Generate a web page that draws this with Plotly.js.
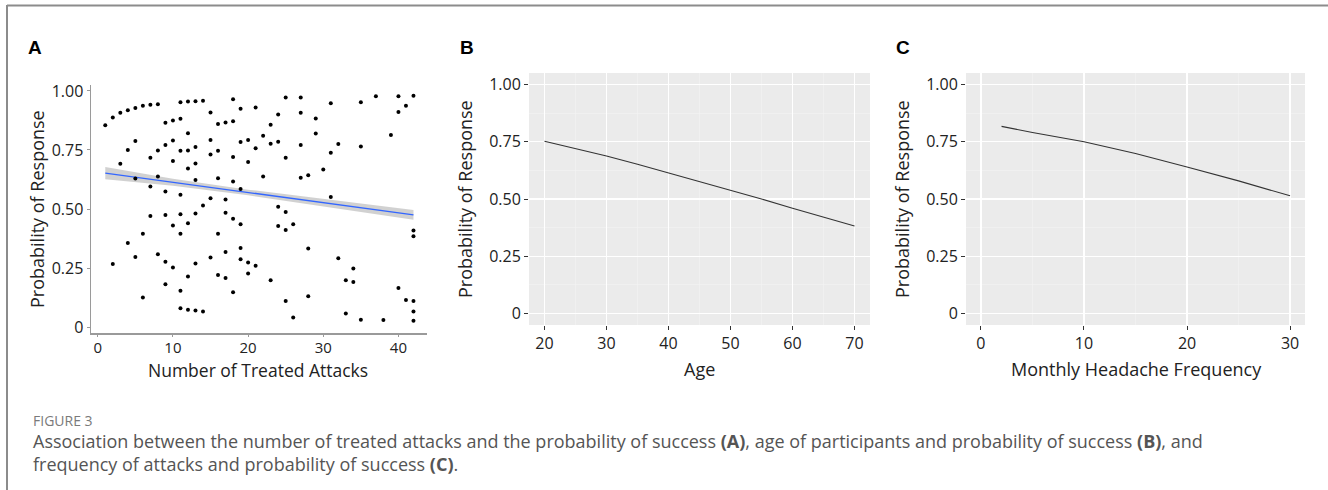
<!DOCTYPE html>
<html><head><meta charset="utf-8">
<script src="https://cdn.plot.ly/plotly-3.0.1.min.js"></script>
<style>html,body{margin:0;padding:0;background:#fff}#chart{width:1328px;height:490px}</style>
</head><body><div id="chart"></div>
<script>
// Panel A: number of treated attacks vs probability of response
const attacksX = [1,2,2,3,3,4,4,4,5,5,5,5,6,6,6,7,7,7,7,8,8,8,8,9,9,9,9,9,9,10,10,10,10,10,
  11,11,11,11,11,11,11,11,12,12,12,12,12,12,12,13,13,13,13,13,13,13,14,14,14,15,15,15,15,15,
  16,16,16,16,16,17,17,17,17,17,18,18,18,18,18,18,19,19,19,19,19,19,20,20,20,20,21,21,21,22,22,
  23,23,23,24,24,24,24,25,25,25,25,25,26,26,27,27,27,27,28,28,28,29,29,30,31,31,31,32,32,33,33,
  34,34,35,35,35,37,38,39,40,40,40,41,41,42,42,42,42,42,42];
const attacksY = [0.855,0.887,0.267,0.907,0.692,0.918,0.75,0.356,0.928,0.788,0.629,0.297,0.937,0.395,0.125,
  0.941,0.717,0.595,0.47,0.944,0.748,0.638,0.308,0.865,0.771,0.574,0.475,0.277,0.181,0.875,0.79,0.703,0.43,0.252,
  0.952,0.882,0.747,0.56,0.478,0.395,0.154,0.08,0.955,0.821,0.748,0.671,0.44,0.214,0.073,
  0.956,0.762,0.693,0.623,0.481,0.269,0.07,0.958,0.515,0.066,0.909,0.792,0.731,0.546,0.295,
  0.86,0.747,0.63,0.395,0.221,0.866,0.54,0.484,0.318,0.208,0.965,0.872,0.72,0.616,0.459,0.148,
  0.924,0.784,0.585,0.435,0.335,0.287,0.792,0.699,0.273,0.227,0.93,0.757,0.26,0.81,0.638,
  0.857,0.776,0.198,0.9,0.785,0.509,0.428,0.972,0.717,0.487,0.411,0.11,0.435,0.041,
  0.972,0.908,0.771,0.632,0.643,0.333,0.131,0.883,0.82,0.667,0.948,0.738,0.551,0.775,0.292,0.198,0.058,
  0.248,0.191,0.952,0.765,0.031,0.977,0.03,0.813,0.977,0.911,0.165,0.937,0.115,0.979,0.409,0.385,0.111,0.066,0.027];
const fitX = [1, 10, 20, 30, 42];
const fitY = [0.652, 0.613, 0.570, 0.527, 0.475];
const fitLow = [0.626, 0.598, 0.558, 0.512, 0.454];
const fitHigh = [0.678, 0.628, 0.582, 0.542, 0.496];
// Panel B: age
const ageX = [20, 25, 30, 35, 40, 45, 50, 55, 60, 65, 70];
const ageY = [0.752, 0.721, 0.688, 0.652, 0.614, 0.578, 0.540, 0.500, 0.460, 0.421, 0.382];
// Panel C: monthly headache frequency
const freqX = [2, 5, 10, 15, 20, 25, 30];
const freqY = [0.817, 0.790, 0.750, 0.699, 0.640, 0.579, 0.514];
// Tick labels
const yTickVals = [0, 0.25, 0.5, 0.75, 1];
const yTickText = ['0', '0.25', '0.50', '0.75', '1.00'];
const aTicks = [0, 10, 20, 30, 40];
const ageTicks = [20, 30, 40, 50, 60, 70];
const ageMinor = [25, 35, 45, 55, 65];
const freqTicks = [0, 10, 20, 30];
const freqMinor = [5, 15, 25];
const yMinor = [0.125, 0.375, 0.625, 0.875];

const FONT = 'Open Sans, Noto Sans, sans-serif';
const W = 1328, H = 490;
const px = v => v / W, py = v => 1 - v / H;

const traces = [
  {x: fitX.concat(fitX.slice().reverse()), y: fitHigh.concat(fitLow.slice().reverse()),
   type: 'scatter', mode: 'lines', fill: 'toself', fillcolor: 'rgba(153,153,153,0.45)',
   line: {width: 0}, hoverinfo: 'skip', xaxis: 'x', yaxis: 'y'},
  {x: fitX, y: fitY, type: 'scatter', mode: 'lines', line: {color: '#3366FF', width: 1.3}, xaxis: 'x', yaxis: 'y'},
  {x: attacksX, y: attacksY, type: 'scatter', mode: 'markers', marker: {color: '#000', size: 4}, xaxis: 'x', yaxis: 'y'},
  {x: [], y: [], type: 'scatter', mode: 'markers', xaxis: 'x4', yaxis: 'y'},
  {x: ageX, y: ageY, type: 'scatter', mode: 'lines', line: {color: '#333', width: 1.1}, xaxis: 'x2', yaxis: 'y2'},
  {x: freqX, y: freqY, type: 'scatter', mode: 'lines', line: {color: '#333', width: 1.1}, xaxis: 'x3', yaxis: 'y3'}
];

const tickFont = {family: FONT, size: 16, color: '#222'};
const aAxis = {showline: true, linecolor: '#9a9a9a', linewidth: 1.5, ticks: 'outside', ticklen: 3,
  tickcolor: '#9a9a9a', showgrid: false, zeroline: false, tickfont: tickFont, fixedrange: true};
const gAxis = {showline: false, ticks: 'outside', ticklen: 4, tickcolor: '#333', tickwidth: 1,
  showgrid: true, gridcolor: '#ffffff', gridwidth: 1.2, zeroline: false, tickfont: tickFont, fixedrange: true};

const titleFont = {family: FONT, size: 18, color: '#222'};
const letterFont = {family: 'Liberation Sans, Arial, sans-serif', size: 19, color: '#000'};

const layout = {
  width: W, height: H, margin: {l: 0, r: 0, t: 0, b: 0},
  paper_bgcolor: '#fff', plot_bgcolor: 'rgba(0,0,0,0)', showlegend: false,
  font: {family: FONT, color: '#222'},
  xaxis: Object.assign({}, aAxis, {domain: [px(91), px(427)], range: [-0.9, 43.8], tickvals: aTicks, anchor: 'y',
    ticks: '', tickfont: {family: FONT, size: 15, color: '#222'}}),
  xaxis4: {overlaying: 'x', anchor: 'y', range: [-0.9, 43.8], tickvals: aTicks, ticks: 'outside', ticklen: 3,
    tickcolor: '#9a9a9a', showticklabels: false, showline: false, showgrid: false, zeroline: false, fixedrange: true},
  yaxis: Object.assign({}, aAxis, {domain: [py(333), py(85)], range: [-0.025, 1.025], tickvals: yTickVals, ticktext: yTickText, anchor: 'x'}),
  xaxis2: Object.assign({}, gAxis, {domain: [px(529), px(870)], range: [17.5, 72.5], tickvals: ageTicks, anchor: 'y2',
    minor: {tickvals: ageMinor, showgrid: true, gridcolor: '#f4f4f4', gridwidth: 0.6, ticks: ''}}),
  yaxis2: Object.assign({}, gAxis, {domain: [py(325), py(73)], range: [-0.05, 1.05], tickvals: yTickVals, ticktext: yTickText, anchor: 'x2',
    minor: {tickvals: yMinor, showgrid: true, gridcolor: '#f4f4f4', gridwidth: 0.6, ticks: ''}}),
  xaxis3: Object.assign({}, gAxis, {domain: [px(966), px(1305)], range: [-1.45, 31.45], tickvals: freqTicks, anchor: 'y3',
    minor: {tickvals: freqMinor, showgrid: true, gridcolor: '#f4f4f4', gridwidth: 0.6, ticks: ''}}),
  yaxis3: Object.assign({}, gAxis, {domain: [py(325), py(73)], range: [-0.05, 1.05], tickvals: yTickVals, ticktext: yTickText, anchor: 'x3',
    minor: {tickvals: yMinor, showgrid: true, gridcolor: '#f4f4f4', gridwidth: 0.6, ticks: ''}}),
  shapes: [
    {type: 'rect', xref: 'x2 domain', yref: 'y2 domain', x0: 0, x1: 1, y0: 0, y1: 1, fillcolor: '#ebebeb', line: {width: 0}, layer: 'below'},
    {type: 'rect', xref: 'x3 domain', yref: 'y3 domain', x0: 0, x1: 1, y0: 0, y1: 1, fillcolor: '#ebebeb', line: {width: 0}, layer: 'below'},
    {type: 'line', xref: 'paper', yref: 'paper', x0: px(7), x1: 1, y0: py(5.5), y1: py(5.5), line: {color: '#8c8c8c', width: 2}},
    {type: 'line', xref: 'paper', yref: 'paper', x0: px(7), x1: px(7), y0: py(5), y1: 0, line: {color: '#8c8c8c', width: 2}}
  ],
  annotations: [
    {text: '<b>A</b>', x: px(35), y: py(47), xref: 'paper', yref: 'paper', showarrow: false, xanchor: 'center', yanchor: 'middle', font: letterFont},
    {text: '<b>B</b>', x: px(467), y: py(47), xref: 'paper', yref: 'paper', showarrow: false, xanchor: 'center', yanchor: 'middle', font: letterFont},
    {text: '<b>C</b>', x: px(903), y: py(47), xref: 'paper', yref: 'paper', showarrow: false, xanchor: 'center', yanchor: 'middle', font: letterFont},
    {text: 'Probability of Response', x: px(37), y: py(209), xref: 'paper', yref: 'paper', showarrow: false, textangle: -90,
     xanchor: 'center', yanchor: 'middle', font: titleFont},
    {text: 'Number of Treated Attacks', x: px(258), y: py(370), xref: 'paper', yref: 'paper', showarrow: false,
     xanchor: 'center', yanchor: 'middle', font: {family: FONT, size: 17.5, color: '#222'}},
    {text: 'Probability of Response', x: px(465), y: py(199), xref: 'paper', yref: 'paper', showarrow: false, textangle: -90,
     xanchor: 'center', yanchor: 'middle', font: titleFont},
    {text: 'Age', x: px(699), y: py(369), xref: 'paper', yref: 'paper', showarrow: false,
     xanchor: 'center', yanchor: 'middle', font: titleFont},
    {text: 'Probability of Response', x: px(902), y: py(199), xref: 'paper', yref: 'paper', showarrow: false, textangle: -90,
     xanchor: 'center', yanchor: 'middle', font: titleFont},
    {text: 'Monthly Headache Frequency', x: px(1136), y: py(369), xref: 'paper', yref: 'paper', showarrow: false,
     xanchor: 'center', yanchor: 'middle', font: titleFont},
    {text: 'FIGURE 3', x: px(31), y: py(420), xref: 'paper', yref: 'paper', showarrow: false,
     xanchor: 'left', yanchor: 'middle', font: {family: FONT, size: 14, color: '#7a7a7a'}},
    {text: 'Association between the number of treated attacks and the probability of success <b>(A)</b>, age of participants and probability of success <b>(B)</b>, and<br>frequency of attacks and probability of success <b>(C)</b>.',
     x: px(31), y: py(452.5), xref: 'paper', yref: 'paper', showarrow: false, align: 'left',
     xanchor: 'left', yanchor: 'middle', font: {family: FONT, size: 18, color: '#555'}}
  ]
};

Plotly.newPlot('chart', traces, layout, {staticPlot: true, displayModeBar: false});
</script>
</body></html>
